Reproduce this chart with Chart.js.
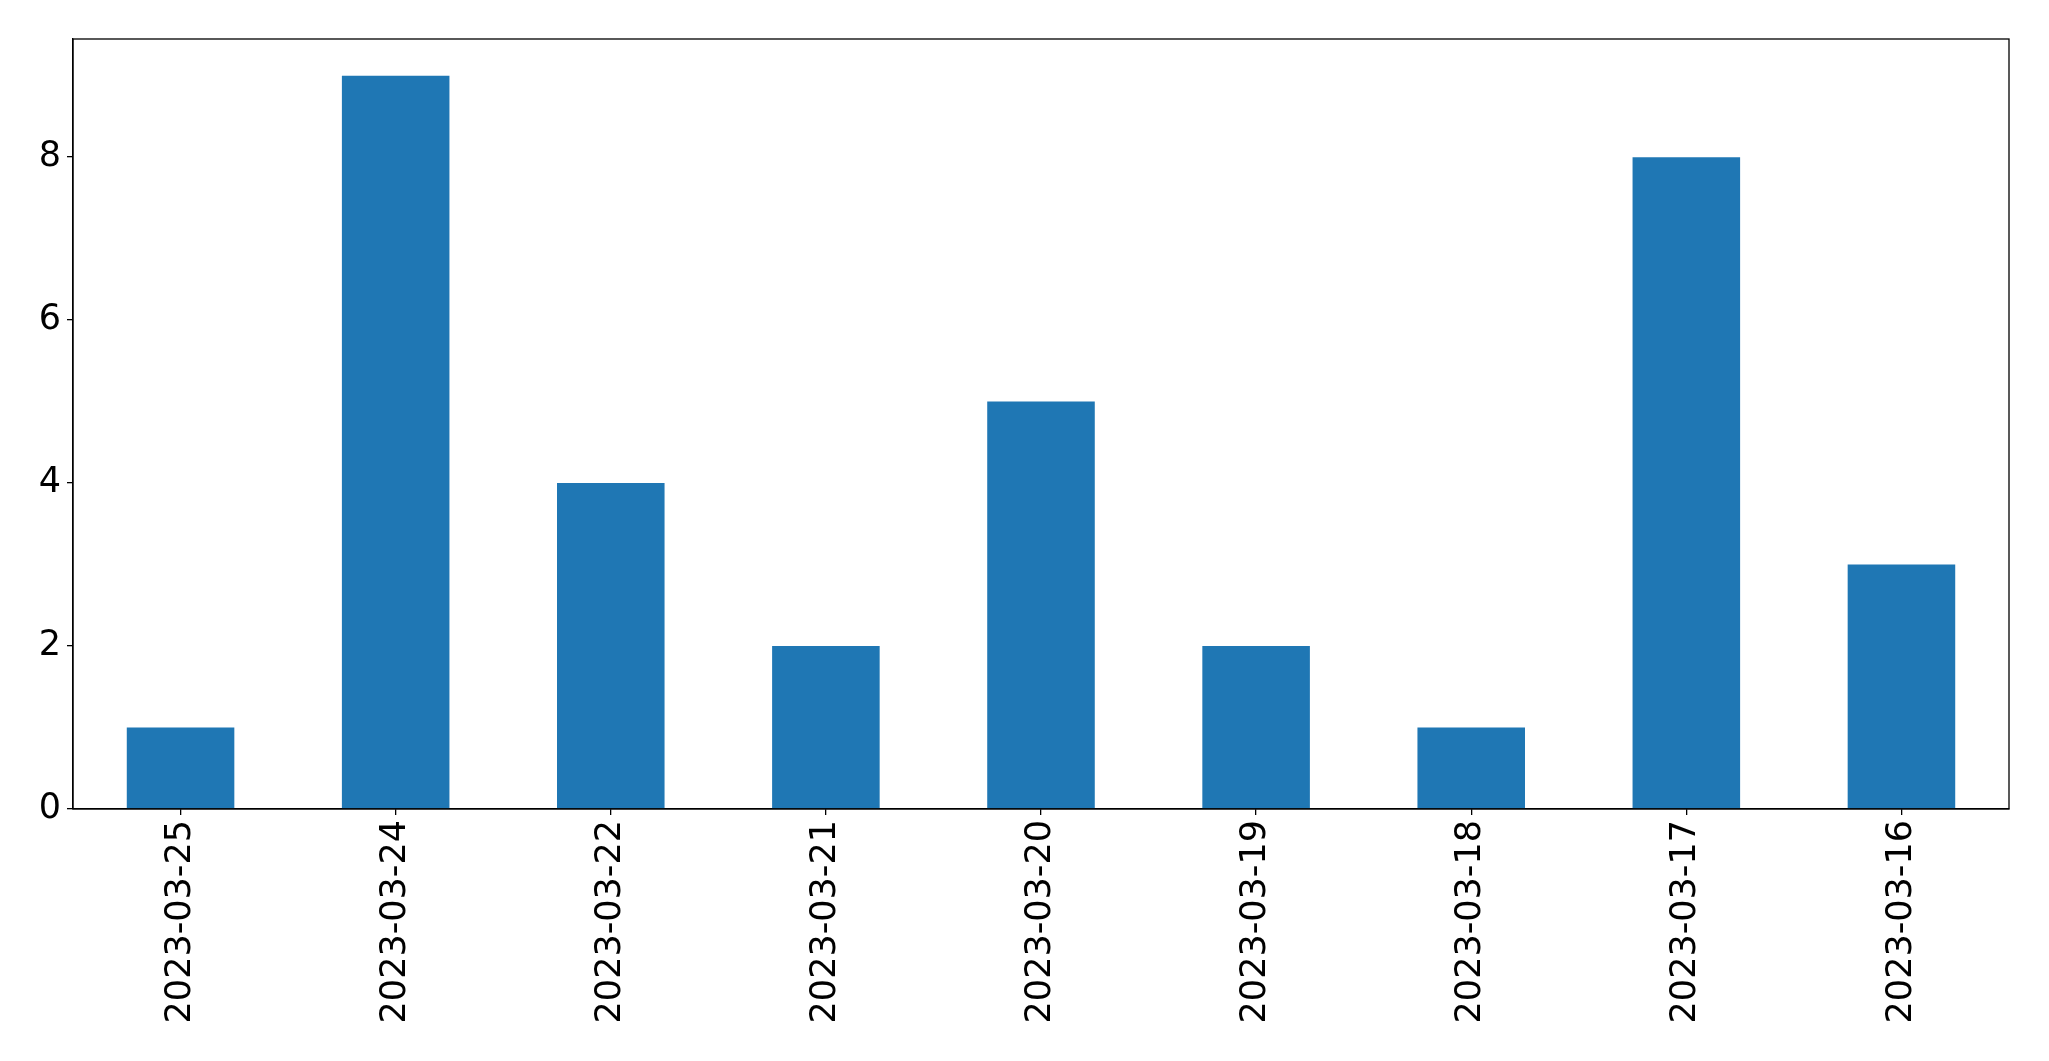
<!DOCTYPE html>
<html>
<head>
<meta charset="utf-8">
<script src="https://cdn.jsdelivr.net/npm/chart.js@4/dist/chart.umd.min.js"></script>
<style>
  html, body { margin: 0; padding: 0; background: #fff; }
  #wrap { width: 2049px; height: 1061px; }
</style>
</head>
<body>
<div id="wrap"><canvas id="chart" width="2049" height="1061"></canvas></div>
<script>
// Data
const dates = ['2023-03-25', '2023-03-24', '2023-03-22', '2023-03-21', '2023-03-20',
               '2023-03-19', '2023-03-18', '2023-03-17', '2023-03-16'];
const counts = [1, 9, 4, 2, 5, 2, 1, 8, 3];
const yTicks = [0, 2, 4, 6, 8];

// Frame around the plot area (matplotlib style spines)
const frame = {
    id: 'frame',
    afterDraw(chart) {
        const a = chart.chartArea;
        const ctx = chart.ctx;
        ctx.save();
        ctx.strokeStyle = '#000';
        ctx.lineWidth = 1.3;
        ctx.strokeRect(a.left, a.top, a.right - a.left, a.bottom - a.top);
        ctx.restore();
    }
};

const fontTicks = { family: 'DejaVu Sans', size: 35 };

new Chart(document.getElementById('chart'), {
    type: 'bar',
    data: {
        labels: dates,
        datasets: [{
            data: counts,
            backgroundColor: '#1f77b4',
            borderWidth: 0,
            categoryPercentage: 1.0,
            barPercentage: 0.5
        }]
    },
    options: {
        responsive: false,
        animation: false,
        devicePixelRatio: 1,
        layout: { padding: { left: 0, top: 39, right: 40, bottom: 0 } },
        plugins: { legend: { display: false }, tooltip: { enabled: false } },
        scales: {
            x: {
                grid: { display: true, offset: false, drawOnChartArea: false, drawTicks: true, tickLength: 6, color: '#000', lineWidth: 1.3 },
                border: { display: true, color: '#000', width: 1.3 },
                ticks: { color: '#000', font: fontTicks, minRotation: 90, maxRotation: 90, padding: 5, autoSkip: false },
                afterFit(scale) { scale.height = 252; }
            },
            y: {
                min: 0,
                max: 9.45,
                grid: { display: true, drawOnChartArea: false, drawTicks: true, tickLength: 6, color: '#000', lineWidth: 1.3 },
                border: { display: true, color: '#000', width: 1.3 },
                ticks: { color: '#000', font: fontTicks, padding: 6, stepSize: 2 },
                afterBuildTicks(scale) {
                    scale.ticks = yTicks.map(v => ({ value: v }));
                },
                afterFit(scale) { scale.width = 73; }
            }
        }
    },
    plugins: [frame]
});
</script>
</body>
</html>
